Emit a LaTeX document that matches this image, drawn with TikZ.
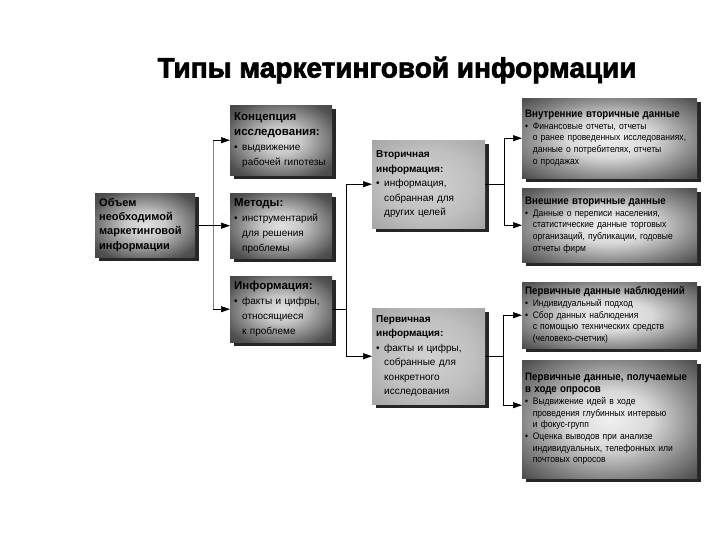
\documentclass[tikz,border=0pt]{standalone}
\usepackage{fontspec}
\setmainfont{Liberation Sans}
\newfontfamily\titlefont{Liberation Sans}[BoldFeatures={FakeBold=2.5}]
\newfontfamily\narrowfont{Liberation Sans}[FakeStretch=0.9]
\usetikzlibrary{arrows.meta,shadows}
\pgfdeclareradialshading{darkshade}{\pgfpointorigin}{color(0bp)=(black!12); color(10bp)=(black!22); color(20bp)=(black!45); color(30bp)=(black!68); color(50bp)=(black!85)}
\pgfdeclareradialshading{midshade}{\pgfpointorigin}{color(0bp)=(black!18); color(20bp)=(black!25); color(35bp)=(black!35); color(50bp)=(black!42)}
\pgfdeclareradialshading{rightshade}{\pgfpointorigin}{color(0bp)=(black!6); color(12bp)=(black!15); color(24bp)=(black!45); color(34bp)=(black!68); color(50bp)=(black!80)}
\newcommand{\bul}{\makebox[0.8em][l]{\textbullet}}
\newcommand{\ind}{\hspace*{0.8em}}
\newcommand{\hd}[1]{{\fontsize{11.5}{15}\selectfont\bfseries #1}}
\newcommand{\sidehd}[1]{{\fontsize{10.8}{12.5}\selectfont\bfseries #1}}
\tikzset{
  box/.style={anchor=north west,inner sep=4pt,align=left,
    drop shadow={shadow xshift=4pt,shadow yshift=-4pt,fill=black!85,opacity=1}},
  darkbox/.style={box,shading=darkshade,
    text width=94,font=\fontsize{10}{15}\selectfont},
  midbox/.style={box,shading=midshade,
    text width=105,font=\fontsize{10}{14.5}\selectfont},
  rightbox/.style={box,shading=rightshade,inner xsep=3pt,
    text width=169,font=\narrowfont\fontsize{9.5}{11.7}\selectfont},
  link/.style={line width=0.7pt},
  arr/.style={link,-{Triangle[length=9pt,width=6pt]}}
}
\begin{document}
\begin{tikzpicture}[x=1pt,y=-1pt]
\useasboundingbox (0,0) rectangle (720,540);
\node (title) at (397,70) {\titlefont\fontsize{28}{30}\selectfont\bfseries Типы маркетинговой информации};
% left column
\node[darkbox,text width=92,minimum height=64] (obem) at (95,193)
  {\fontsize{11}{14.3}\selectfont\bfseries Объем\\необходимой\\маркетинговой\\информации};
\node[darkbox,minimum height=70] (konc) at (230,105)
  {\hd{Концепция}\\\hd{исследования:}\\\bul выдвижение\\\ind рабочей гипотезы};
\node[darkbox,minimum height=65] (met) at (230,193)
  {\hd{Методы:}\\\bul инструментарий\\\ind для решения\\\ind проблемы};
\node[darkbox,minimum height=66] (info) at (230,276)
  {\hd{Информация:}\\\bul факты и цифры,\\\ind относящиеся\\\ind к проблеме};
% middle column
\node[midbox,minimum height=88] (vtor) at (372,140)
  {\textbf{Вторичная}\\\textbf{информация:}\\\bul информация,\\\ind собранная для\\\ind других целей};
\node[midbox,minimum height=96] (perv) at (372,308)
  {\textbf{Первичная}\\\textbf{информация:}\\\bul факты и цифры,\\\ind собранные для\\\ind конкретного\\\ind исследования};
% right column
\node[rightbox,minimum height=80] (vnut) at (522,98)
  {\sidehd{Внутренние вторичные данные}\\
   \bul Финансовые отчеты, отчеты\\\ind о ранее проведенных исследованиях,\\
   \ind данные о потребителях, отчеты\\\ind о продажах};
\node[rightbox,minimum height=74] (vnesh) at (522,188)
  {\sidehd{Внешние вторичные данные}\\
   \bul Данные о переписи населения,\\\ind статистические данные торговых\\
   \ind организаций, публикации, годовые\\\ind отчеты фирм};
\node[rightbox,minimum height=66] (nabl) at (522,282)
  {\sidehd{Первичные данные наблюдений}\\
   \bul Индивидуальный подход\\\bul Сбор данных наблюдения\\
   \ind с помощью технических средств\\\ind (человеко-счетчик)};
\node[rightbox,minimum height=118] (opr) at (522,360)
  {\sidehd{Первичные данные, получаемые}\\\sidehd{в ходе опросов}\\
   \bul Выдвижение идей в ходе\\\ind проведения глубинных интервью\\\ind и фокус-групп\\
   \bul Оценка выводов при анализе\\\ind индивидуальных, телефонных или\\\ind почтовых опросов};
% connectors
\coordinate (s1) at (213,0);
\coordinate (s2) at (346,0);
\coordinate (s3) at (504,0);
\coordinate (s4) at (503,0);
\coordinate (oprin) at ([yshift=14pt]opr.west);
\draw[link,gray] (s1 |- konc.west) -- (s1 |- info.west);
\draw[link] (obem.east) -- (s1 |- obem.east);
\draw[arr] (s1 |- konc.west) -- (konc.west);
\draw[arr] (s1 |- met.west) -- (met.west);
\draw[arr] (s1 |- info.west) -- (info.west);
\draw[link] (info.east) -- (s2 |- info.east);
\draw[link] (s2 |- vtor.west) -- (s2 |- perv.west);
\draw[arr] (s2 |- vtor.west) -- (vtor.west);
\draw[arr] (s2 |- perv.west) -- (perv.west);
\draw[link] (vtor.east) -- (s3 |- vtor.east);
\draw[link] (s3 |- vnut.west) -- (s3 |- vnesh.west);
\draw[arr] (s3 |- vnut.west) -- (vnut.west);
\draw[arr] (s3 |- vnesh.west) -- (vnesh.west);
\draw[link] (perv.east) -- (s4 |- perv.east);
\draw[link] (s4 |- nabl.west) -- (s4 |- oprin);
\draw[arr] (s4 |- nabl.west) -- (nabl.west);
\draw[arr] (s4 |- oprin) -- (oprin);
\end{tikzpicture}
\end{document}
